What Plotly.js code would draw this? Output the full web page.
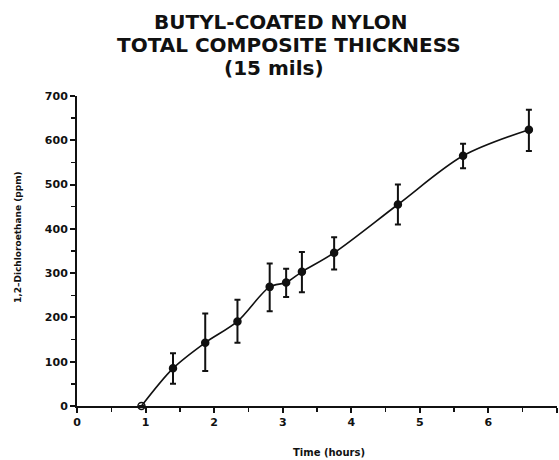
<!DOCTYPE html>
<html><head><meta charset="utf-8">
<script src="https://cdn.plot.ly/plotly-3.0.1.min.js"></script>
<style>html,body{margin:0;padding:0;background:#fff}#chart{width:559px;height:460px}</style>
</head><body><div id="chart"></div>
<script>
var timeHours = [0.94, 1.40, 1.87, 2.34, 2.81, 3.05, 3.28, 3.75, 4.68, 5.63, 6.59];
var concPpm   = [0, 85, 143, 191, 269, 279, 303, 346, 455, 565, 624];
var errUpper  = [0, 34, 66, 49, 53, 31, 45, 35, 45, 27, 45];
var errLower  = [0, 35, 64, 48, 55, 33, 46, 38, 45, 28, 48];
var markerSymbols = ['circle-open','circle','circle','circle','circle','circle','circle','circle','circle','circle','circle'];
var xTicks = [0,1,2,3,4,5,6,7];
var yTicks = [0,100,200,300,400,500,600,700];
var titleLines = ['BUTYL-COATED NYLON', 'TOTAL COMPOSITE THICKNESS', '(15 mils)'];
var xTitle = 'Time (hours)';
var yTitle = '1,2\u2013Dichloroethane (ppm)';

var font = {family:'DejaVu Sans, Liberation Sans, sans-serif', color:'#111', weight:'bold'};
function f(size){ return Object.assign({}, font, {size:size}); }

var trace = {
  x: timeHours, y: concPpm, type:'scatter', mode:'lines+markers',
  line:{shape:'spline', smoothing:0.9, color:'#111', width:1.6},
  marker:{symbol:markerSymbols, size:7, color:'#111', line:{color:'#111', width:1.5}},
  error_y:{type:'data', symmetric:false, array:errUpper, arrayminus:errLower, color:'#111', thickness:2, width:3},
  cliponaxis:false, showlegend:false
};

var titleY = [22, 45, 68]; // pixel centres
var titleX = [281, 289, 274];
var annotations = titleLines.map(function(t,i){
  return {text:t, xref:'paper', yref:'paper', x:(titleX[i]-77)/480, y:1+(96-titleY[i])/310,
          xanchor:'center', yanchor:'middle', showarrow:false, font:f(20)};
});
annotations.push({text:xTitle, xref:'paper', yref:'paper', x:(329-77)/480, y:-(452-406)/310,
  xanchor:'center', yanchor:'middle', showarrow:false, font:f(10)});
annotations.push({text:yTitle, xref:'paper', yref:'paper', x:-(77-18)/480, y:(406-237)/310,
  xanchor:'center', yanchor:'middle', showarrow:false, textangle:-90, font:f(9)});

var layout = {
  width:559, height:460,
  margin:{l:77, r:2, t:96, b:54},
  paper_bgcolor:'#fff', plot_bgcolor:'#fff',
  annotations: annotations,
  xaxis:{range:[0,7], tickvals:xTicks, ticktext:xTicks.map(String), showline:true, linecolor:'#111', linewidth:2,
         ticks:'outside', ticklen:5, tickwidth:2, tickcolor:'#111', showgrid:false, zeroline:false,
         minor:{dtick:0.5, ticks:'outside', ticklen:4, tickwidth:1.5, tickcolor:'#111'},
         tickfont:f(11)},
  yaxis:{range:[0,700], tickvals:yTicks, showline:true, linecolor:'#111', linewidth:2,
         ticks:'outside', ticklen:5, tickwidth:2, tickcolor:'#111', showgrid:false, zeroline:false,
         minor:{dtick:50, ticks:'outside', ticklen:4, tickwidth:1.5, tickcolor:'#111'},
         tickfont:f(11)}
};

Plotly.newPlot('chart', [trace], layout, {displayModeBar:false, staticPlot:true});
</script>
</body></html>
